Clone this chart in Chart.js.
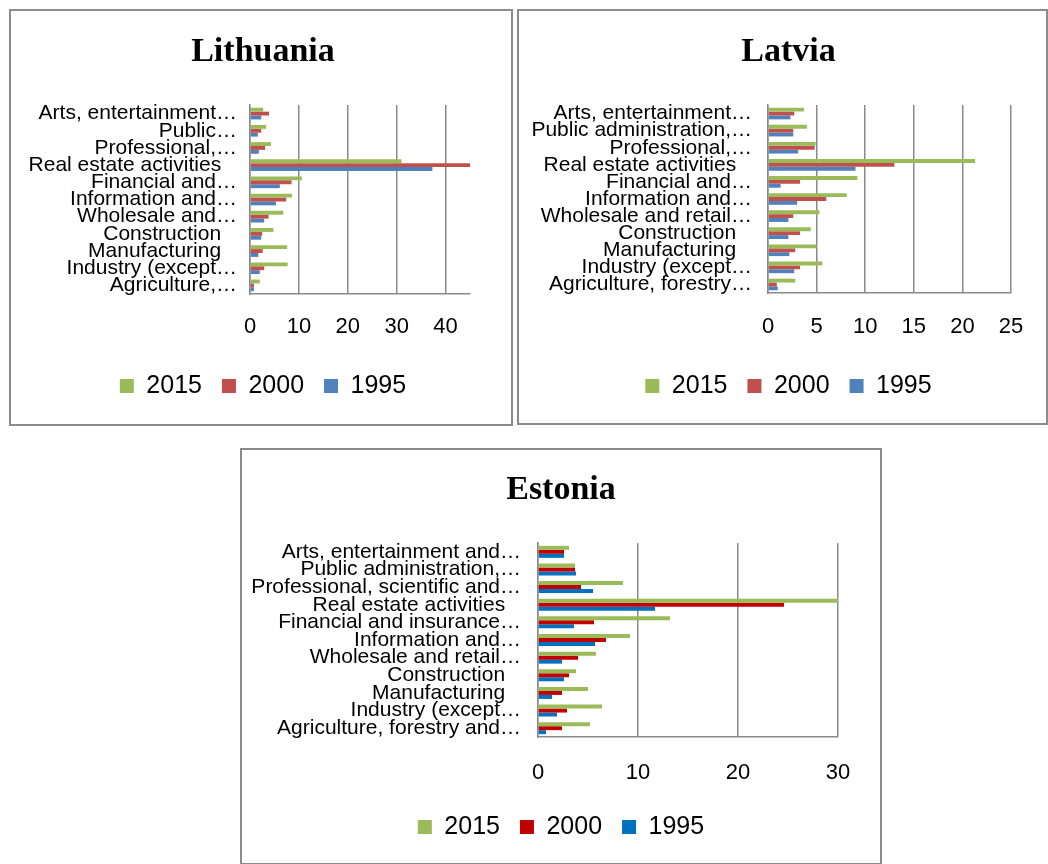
<!DOCTYPE html>
<html lang="en">
<head>
<meta charset="UTF-8">
<title>Lithuania, Latvia, Estonia</title>
<script src="https://cdn.jsdelivr.net/npm/chart.js"></script>
<style>
  html, body { margin: 0; padding: 0; background: #fff; width: 1048px; height: 864px; overflow: hidden; }
  .box { position: absolute; box-sizing: border-box; border: 2px solid #8c8c8c; background: #fff; }
  .box canvas { display: block; }
</style>
</head>
<body>
<div class="box" style="left:9px;top:9px;width:504px;height:417px"><canvas id="lt" width="500" height="413"></canvas></div>
<div class="box" style="left:517px;top:9px;width:531px;height:416px"><canvas id="lv" width="527" height="412"></canvas></div>
<div class="box" style="left:240px;top:448px;width:642px;height:417px"><canvas id="ee" width="638" height="413"></canvas></div>
<script>
const years = ['2015', '2000', '1995'];

// Lithuania (top to bottom as shown)
const ltLabels = ['Arts, entertainment\u2026', 'Public\u2026', 'Professional,\u2026', 'Real estate activities  \u2009',
  'Financial and\u2026', 'Information and\u2026', 'Wholesale and\u2026', 'Construction  \u2009',
  'Manufacturing  \u2009', 'Industry (except\u2026', 'Agriculture,\u2026'];
const lt2015 = [2.7, 3.3, 4.3, 31.0, 10.6, 8.6, 6.8, 4.8, 7.6, 7.7, 2.0];
const lt2000 = [3.9, 2.3, 3.1, 45.3, 8.5, 7.4, 3.8, 2.5, 2.6, 2.9, 0.8];
const lt1995 = [2.3, 1.6, 1.8, 37.3, 6.1, 5.3, 2.9, 2.3, 1.7, 2.0, 0.8];
const ltTicks = [0, 10, 20, 30, 40];

// Latvia
const lvLabels = ['Arts, entertainment\u2026', 'Public administration,\u2026', 'Professional,\u2026', 'Real estate activities  \u2009',
  'Financial and\u2026', 'Information and\u2026', 'Wholesale and retail\u2026', 'Construction  \u2009',
  'Manufacturing  \u2009', 'Industry (except\u2026', 'Agriculture, forestry\u2026'];
const lv2015 = [3.7, 4.0, 4.9, 21.3, 9.2, 8.1, 5.3, 4.4, 5.0, 5.6, 2.8];
const lv2000 = [2.7, 2.6, 4.8, 13.0, 3.3, 6.0, 2.6, 3.3, 2.8, 3.3, 0.9];
const lv1995 = [2.3, 2.6, 3.1, 9.0, 1.3, 3.0, 2.1, 2.1, 2.2, 2.7, 1.0];
const lvTicks = [0, 5, 10, 15, 20, 25];

// Estonia
const eeLabels = ['Arts, entertainment and\u2026', 'Public administration,\u2026', 'Professional, scientific and\u2026',
  'Real estate activities  \u2009', 'Financial and insurance\u2026', 'Information and\u2026', 'Wholesale and retail\u2026',
  'Construction  \u2009', 'Manufacturing  \u2009', 'Industry (except\u2026', 'Agriculture, forestry and\u2026'];
const ee2015 = [3.1, 3.7, 8.5, 30.1, 13.2, 9.2, 5.8, 3.8, 5.0, 6.4, 5.2];
const ee2000 = [2.6, 3.7, 4.3, 24.6, 5.6, 6.8, 4.0, 3.1, 2.4, 2.9, 2.4];
const ee1995 = [2.6, 3.8, 5.5, 11.7, 3.6, 5.7, 2.4, 2.6, 1.4, 1.9, 0.8];
const eeTicks = [0, 10, 20, 30];

const officeColors = ['#9bbb59', '#c0504d', '#4f81bd'];
const estColors = ['#9bbb59', '#c00000', '#0070c0'];

const gridGray = '#8a8a8a';
const sans = 'Liberation Sans';

function makeChart(id, o) {
  return new Chart(document.getElementById(id), {
    type: 'bar',
    data: {
      labels: o.labels,
      datasets: o.series.map((d, i) => ({
        label: years[i],
        data: d,
        yAxisID: 'y',
        backgroundColor: o.colors[i],
        borderWidth: 0,
        categoryPercentage: 0.68,
        barPercentage: 1.0
      }))
    },
    options: {
      indexAxis: 'y',
      responsive: false,
      animation: false,
      layout: { padding: { left: o.padLeft, right: 0, top: 0, bottom: o.padBottom } },
      plugins: {
        title: {
          display: true,
          text: o.title,
          color: '#000',
          font: { family: 'Liberation Serif', size: 34, weight: 'bold' },
          padding: { top: o.titleTop, bottom: o.titleBottom }
        },
        legend: {
          position: 'bottom',
          labels: {
            color: '#000',
            font: { family: sans, size: 25 },
            boxWidth: 14,
            boxHeight: 14,
            padding: 20
          }
        },
        tooltip: { enabled: false }
      },
      scales: {
        y: {
          position: 'left',
          grid: { display: false },
          border: { display: true, color: gridGray, width: 1.5 },
          ticks: { color: '#000', font: { family: sans, size: 21 }, autoSkip: false, padding: o.labelPad },
          afterFit: s => { s.width = o.yWidth; }
        },
        yR: {
          type: 'category',
          position: 'right',
          grid: { display: false },
          border: { display: false },
          ticks: { display: false },
          afterFit: s => { s.width = o.rightW; }
        },
        x: {
          min: 0,
          max: o.max,
          grid: { color: gridGray, lineWidth: 1.5, drawTicks: false },
          border: { display: true, color: gridGray, width: 1.5 },
          ticks: { color: '#000', font: { family: sans, size: 22 }, padding: o.xPad },
          afterBuildTicks: s => { s.ticks = o.ticks.map(v => ({ value: v })); },
          afterFit: s => { s.height = o.xHeight; }
        }
      }
    }
  });
}

makeChart('lt', {
  title: 'Lithuania', labels: ltLabels, series: [lt2015, lt2000, lt1995], colors: officeColors,
  max: 45, ticks: ltTicks, padLeft: 4, yWidth: 235, rightW: 41, padBottom: 15.5, xHeight: 59.5,
  titleTop: 20.6, titleBottom: 32.6, xPad: 20, labelPad: 5
});

makeChart('lv', {
  title: 'Latvia', labels: lvLabels, series: [lv2015, lv2000, lv1995], colors: officeColors,
  max: 25, ticks: lvTicks, padLeft: 12, yWidth: 237, rightW: 35, padBottom: 14.5, xHeight: 60.5,
  titleTop: 20.6, titleBottom: 32.6, xPad: 20.8, labelPad: 8
});

makeChart('ee', {
  title: 'Estonia', labels: eeLabels, series: [ee2015, ee2000, ee1995], colors: estColors,
  max: 30, ticks: eeTicks, padLeft: 0, yWidth: 296, rightW: 42, padBottom: 13.5, xHeight: 57.5,
  titleTop: 19.6, titleBottom: 32.6, xPad: 22.8, labelPad: 9
});
</script>
</body>
</html>
